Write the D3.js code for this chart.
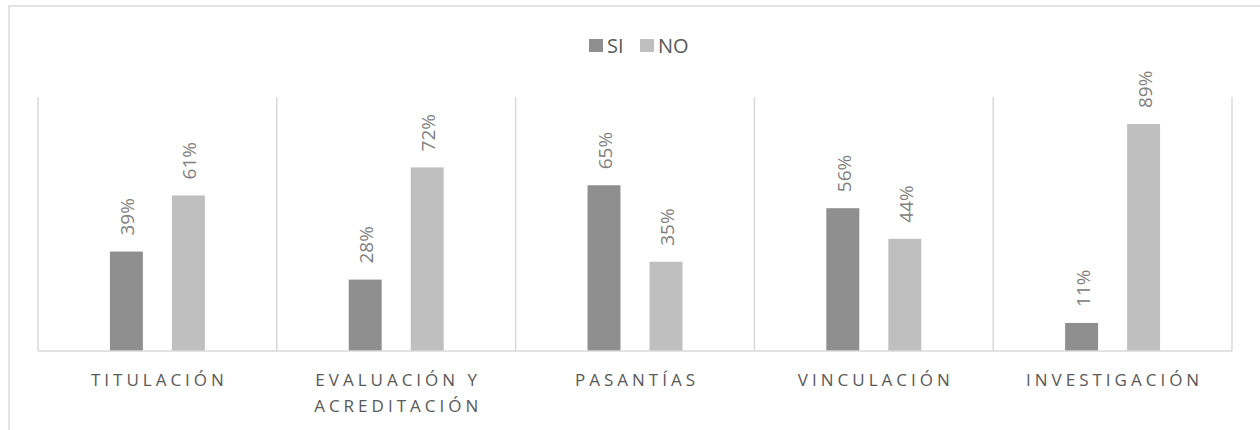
<!DOCTYPE html>
<html><head><meta charset="utf-8">
<script src="https://cdn.jsdelivr.net/npm/d3@7"></script>
<style>body{margin:0;background:#fff;}svg{display:block;}</style>
</head><body>
<script>
const categories = [["TITULACIÓN"], ["EVALUACIÓN Y", "ACREDITACIÓN"], ["PASANTÍAS"], ["VINCULACIÓN"], ["INVESTIGACIÓN"]];
const seriesNames = ["SI", "NO"];
const siValues = [0.39, 0.28, 0.65, 0.56, 0.11];
const noValues = [0.61, 0.72, 0.35, 0.44, 0.89];
const colors = ["#8f8f8f", "#bfbfbf"];

const W = 1260, H = 430;
const svg = d3.select("body").append("svg").attr("width", W).attr("height", H);
svg.append("rect").attr("x", 9).attr("y", 6).attr("width", 1300).attr("height", 500)
  .attr("fill", "#fff").attr("stroke", "#d9d9d9").attr("stroke-width", 1.5);

const pLeft = 38, pRight = 1232, pTop = 96, pBottom = 351;
const x0 = d3.scaleBand().domain(d3.range(categories.length)).range([pLeft, pRight]).padding(0);
const x1 = d3.scaleBand().domain(seriesNames).range([0, x0.bandwidth()]).paddingInner(0.468).paddingOuter(1.16);
const y = d3.scaleLinear().domain([0, 1]).range([pBottom, pTop]);

// separators
const seps = d3.range(categories.length + 1).map(i => i < categories.length ? x0(i) : pRight);
svg.selectAll("line.sep").data(seps).enter().append("line")
  .attr("x1", d => d).attr("x2", d => d).attr("y1", pTop + 1).attr("y2", pBottom)
  .attr("stroke", "#d9d9d9").attr("stroke-width", 1.5);

const data = categories.map((c, i) => ({i, vals: [siValues[i], noValues[i]]}));
const g = svg.selectAll("g.cat").data(data).enter().append("g")
  .attr("transform", d => `translate(${x0(d.i)},0)`);
g.selectAll("rect").data(d => d.vals.map((v, k) => ({k, v}))).enter().append("rect")
  .attr("x", d => x1(seriesNames[d.k])).attr("width", x1.bandwidth())
  .attr("y", d => y(d.v)).attr("height", d => pBottom - y(d.v))
  .attr("fill", d => colors[d.k]);
g.selectAll("text.lbl").data(d => d.vals.map((v, k) => ({k, v}))).enter().append("text")
  .attr("transform", d => `translate(${x1(seriesNames[d.k]) + x1.bandwidth() / 2 + 8},${y(d.v) - 16}) rotate(-90)`)
  .attr("font-family", "Open Sans, sans-serif").attr("font-size", 19).attr("fill", "#808080")
  .text(d => d3.format(".0%")(d.v));

// axis line
svg.append("line").attr("x1", pLeft).attr("x2", pRight).attr("y1", pBottom).attr("y2", pBottom)
  .attr("stroke", "#d9d9d9").attr("stroke-width", 1.5);

// category labels
const cl = svg.selectAll("text.cat").data(categories).enter().append("text")
  .attr("text-anchor", "middle")
  .attr("font-family", "Open Sans, sans-serif").attr("font-size", 17).attr("fill", "#595959")
  .attr("letter-spacing", "4px");
cl.each(function(d, i) {
  d3.select(this).selectAll("tspan").data(d).enter().append("tspan")
    .attr("x", x0(i) + x0.bandwidth() / 2 + 2).attr("y", (t, j) => 386 + j * 26).text(t => t);
});

// legend
const legend = svg.append("g").attr("font-family", "Open Sans, sans-serif").attr("font-size", 20).attr("fill", "#595959");
const lx = [589, 640];
seriesNames.forEach((s, k) => {
  legend.append("rect").attr("x", lx[k]).attr("y", 39).attr("width", 14).attr("height", 13).attr("fill", colors[k]);
  legend.append("text").attr("x", lx[k] + 18).attr("y", 53).text(s);
});
</script>
</body></html>
